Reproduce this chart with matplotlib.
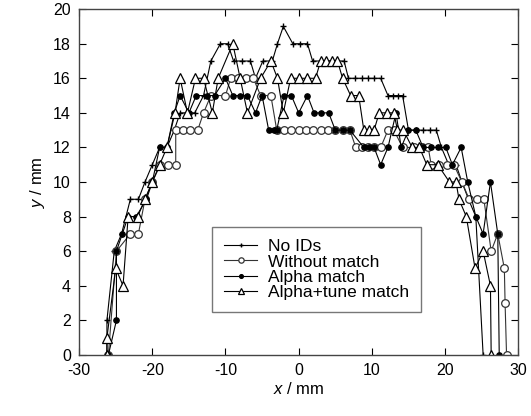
import matplotlib
matplotlib.use("Agg")
import matplotlib.pyplot as plt

plt.rcParams['font.family'] = ['Liberation Sans', 'DejaVu Sans']
plt.rcParams['axes.unicode_minus'] = False
plt.rcParams['mathtext.fontset'] = 'custom'
plt.rcParams['mathtext.it'] = 'Liberation Sans:italic'
plt.rcParams['mathtext.rm'] = 'Liberation Sans'

# No IDs
x_noid = [-26.2, -26.2, -25.2, -24.2, -23.0, -21.9, -21.0, -20.0, -19.0, -18.0,
          -17.0, -16.2, -15.2, -14.2, -13.0, -12.0, -10.7, -9.7, -8.9, -7.7,
          -6.6, -5.9, -4.9, -3.6, -2.9, -2.1, -0.8, 0.2, 1.2, 1.9,
          6.2, 6.8, 7.7, 8.6, 9.5, 10.3, 11.2, 12.2, 12.9, 13.6,
          14.2, 15.0, 16.0, 17.0, 18.0, 18.8, 19.5, 20.5, 21.5, 22.3,
          23.2, 24.2, 25.2]
y_noid = [0, 2, 6, 7, 9, 9, 10, 11, 12, 12,
          13, 14, 14, 14, 15, 17, 18, 18, 17, 17,
          17, 16, 17, 17, 18, 19, 18, 18, 18, 17,
          17, 16, 16, 16, 16, 16, 16, 15, 15, 15,
          15, 13, 13, 13, 13, 13, 12, 11, 11, 10,
          9, 8, 0]

# Without match
x_wo = [-26.0, -24.9, -23.0, -21.9, -21.0, -20.0, -18.9, -17.9, -16.8, -16.8,
        -15.8, -14.8, -13.8, -13.0, -12.0, -10.0, -9.3, -8.3, -7.2, -6.2,
        -5.2, -3.8, -3.0, -2.0, -1.0, 0.0, 1.0, 2.0, 3.0, 4.0,
        5.0, 6.0, 7.0, 7.8, 8.7, 9.5, 10.3, 11.2, 12.2, 13.0,
        14.2, 15.8, 16.8, 17.7, 18.1, 19.2, 20.2, 21.2, 22.3, 23.3,
        24.3, 25.3, 26.3, 27.2, 28.1, 28.2, 28.4]
y_wo = [0, 6, 7, 7, 9, 10, 11, 11, 11, 13,
        13, 13, 13, 14, 15, 15, 16, 16, 16, 16,
        15, 15, 13, 13, 13, 13, 13, 13, 13, 13,
        13, 13, 13, 12, 12, 12, 12, 12, 13, 13,
        12, 12, 12, 12, 11, 11, 11, 11, 10, 9,
        9, 9, 6, 7, 5, 3, 0]

# Alpha match
x_am = [-26.0, -24.9, -24.9, -24.1, -23.3, -22.2, -20.8, -20.0, -19.0, -18.0,
        -17.0, -16.2, -15.0, -14.0, -12.5, -11.5, -10.0, -9.0, -8.0, -7.0,
        -5.9, -5.0, -4.1, -3.4, -3.0, -2.0, -1.0, 0.0, 1.2, 2.1,
        3.1, 4.1, 5.0, 6.0, 7.0, 8.9, 9.6, 10.3, 11.2, 12.2,
        13.3, 14.0, 15.0, 16.0, 17.0, 18.1, 19.0, 20.1, 21.0, 22.2,
        23.1, 24.2, 25.2, 26.2, 27.2, 27.4]
y_am = [0, 2, 6, 7, 8, 8, 9, 10, 12, 12,
        14, 15, 14, 15, 15, 15, 16, 15, 15, 15,
        14, 15, 13, 13, 13, 15, 15, 14, 15, 14,
        14, 14, 13, 13, 13, 12, 12, 12, 11, 12,
        14, 12, 13, 13, 12, 12, 12, 12, 11, 12,
        10, 8, 7, 10, 7, 0]

# Alpha+tune match
x_at = [-26.2, -26.2, -25.0, -24.0, -23.3, -22.0, -21.0, -20.0, -19.0, -18.0,
        -16.9, -16.2, -15.2, -14.1, -13.0, -11.8, -11.0, -9.0, -8.0, -7.0,
        -5.2, -3.8, -2.9, -2.1, -1.1, 0.0, 1.2, 2.3, 3.0, 3.8,
        4.6, 5.3, 6.0, 7.1, 8.2, 8.9, 9.6, 10.3, 11.0, 12.0,
        13.0, 13.5, 14.3, 15.5, 16.5, 17.5, 19.0, 20.6, 21.5, 21.9,
        22.9, 24.1, 25.2, 26.2, 26.3]
y_at = [0, 1, 5, 4, 8, 8, 9, 10, 11, 12,
        14, 16, 14, 16, 16, 14, 16, 18, 16, 14,
        16, 17, 16, 14, 16, 16, 16, 16, 17, 17,
        17, 17, 16, 15, 15, 13, 13, 13, 14, 14,
        14, 13, 13, 12, 12, 11, 11, 10, 10, 9,
        8, 5, 6, 4, 0]

fig = plt.figure(figsize=(5.31, 4.16), dpi=100)
ax = fig.add_axes([0.149, 0.147, 0.827, 0.831])

lw = 0.8
ax.plot(x_noid, y_noid, '-', color='black', lw=lw, marker='+', ms=4.5, mew=1,
        label='No IDs')
ax.plot(x_wo, y_wo, '-', color='#333333', lw=lw, marker='o', ms=5.5,
        mfc='white', mec='#333333', mew=0.9, label='Without match')
ax.plot(x_am, y_am, '-', color='black', lw=lw, marker='o', ms=3.8,
        mfc='black', mec='black', label='Alpha match')
ax.plot(x_at, y_at, '-', color='black', lw=lw, marker='^', ms=6.5,
        mfc='white', mec='black', mew=0.9, label='Alpha+tune match')

ax.set_xlim(-30, 30)
ax.set_ylim(0, 20)
ax.set_xticks(range(-30, 31, 10))
ax.set_yticks(range(0, 21, 2))
ax.tick_params(direction='in', top=True, right=True, length=5, width=0.8,
               labelsize=11.5, pad=6)
for s in ax.spines.values():
    s.set_color('#444444')
    s.set_linewidth(1)

ax.set_xlabel(r'$x$ / mm', fontsize=12, labelpad=2)
ax.set_ylabel(r'$y$ / mm', fontsize=12, labelpad=4)

leg = ax.legend(loc='lower left', bbox_to_anchor=(0.303, 0.124), fontsize=12.5,
                frameon=True, fancybox=False, edgecolor='#555555',
                borderaxespad=0, labelspacing=0.0, handlelength=1.9,
                handletextpad=0.6, borderpad=0.7, markerscale=0.7)
leg.get_frame().set_linewidth(1)

fig.savefig('out.png', dpi=100)
